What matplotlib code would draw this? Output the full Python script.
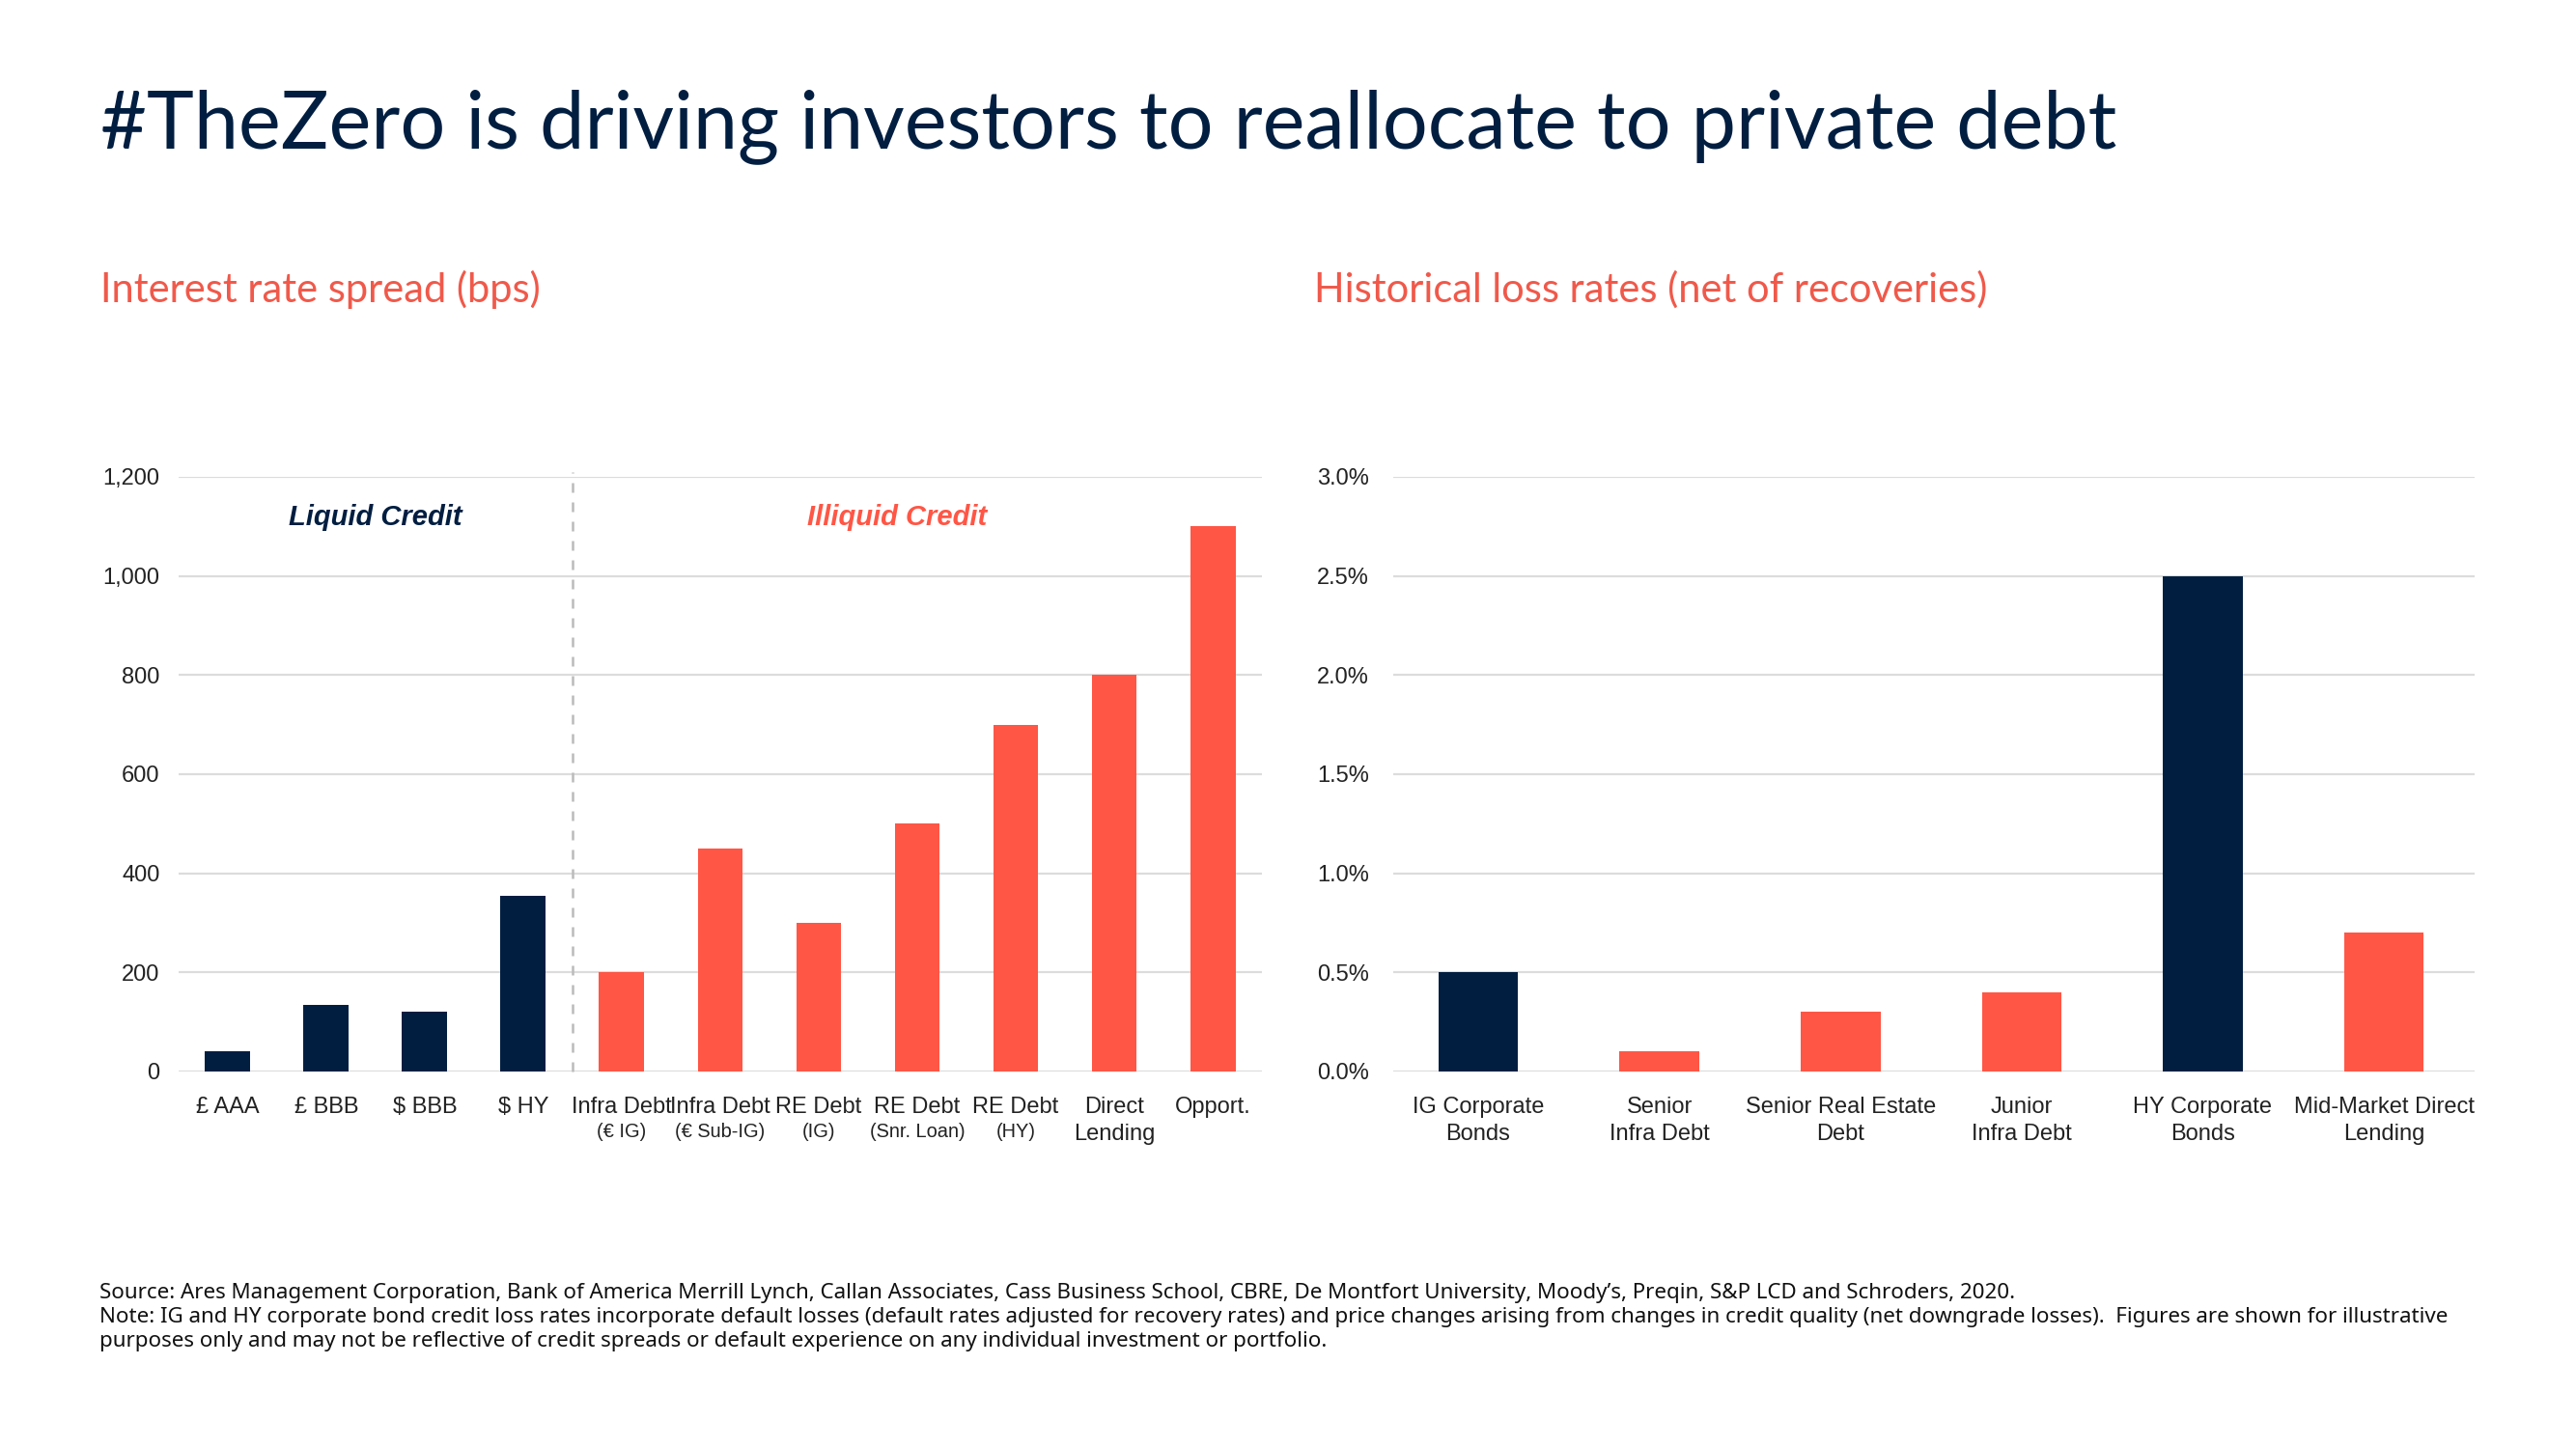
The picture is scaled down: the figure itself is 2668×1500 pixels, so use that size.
import numpy as np
import matplotlib.pyplot as plt
from matplotlib import transforms

# data
spread_labels = ["£ AAA", "£ BBB", "$ BBB", "$ HY", "Infra Debt", "Infra Debt",
                 "RE Debt", "RE Debt", "RE Debt", "Direct\nLending", "Opport."]
spread_sub = ["", "", "", "", "(€ IG)", "(€ Sub-IG)", "(IG)", "(Snr. Loan)", "(HY)", "", ""]
spread_bps = [40, 135, 120, 355, 200, 450, 300, 500, 700, 800, 1100]
n_liquid = 4

loss_labels = ["IG Corporate\nBonds", "Senior\nInfra Debt", "Senior Real Estate\nDebt",
               "Junior\nInfra Debt", "HY Corporate\nBonds", "Mid-Market Direct\nLending"]
loss_rates = [0.5, 0.1, 0.3, 0.4, 2.5, 0.7]
loss_liquid = [True, False, False, False, True, False]

NAVY = "#011E41"
RED = "#FF5645"
SUB = "#F0594A"
GRID = "#DCDCDC"
TICK = "#222222"

plt.rcParams['font.family'] = ['Liberation Sans', 'DejaVu Sans']

fig = plt.figure(figsize=(13.34, 7.5), dpi=200)

fig.text(0.039, 0.898, "#TheZero is driving investors to reallocate to private debt",
         fontsize=29.8, color=NAVY, family=['Lato', 'DejaVu Sans'], va='baseline')
fig.text(0.039, 0.8, "Interest rate spread (bps)", fontsize=15, color=SUB,
         family=['Lato', 'DejaVu Sans'], va='center')
fig.text(0.5101, 0.8, "Historical loss rates (net of recoveries)", fontsize=15, color=SUB,
         family=['Lato', 'DejaVu Sans'], va='center')


def style(ax, pad):
    for s in ax.spines.values():
        s.set_visible(False)
    ax.tick_params(length=0, labelsize=8.5, colors=TICK, pad=pad)
    ax.grid(axis='y', color=GRID, lw=0.8)
    ax.set_axisbelow(True)
    ax.set_xticks([])


# left chart
ax1 = fig.add_axes([0.0693, 0.26, 0.4206, 0.4107])
style(ax1, 7)
x = np.arange(len(spread_bps))
cols = [NAVY if i < n_liquid else RED for i in x]
ax1.bar(x, spread_bps, width=0.46, color=cols)
ax1.set_xlim(-0.5, 10.5)
ax1.set_ylim(0, 1200)
ax1.set_yticks(range(0, 1201, 200))
ax1.set_yticklabels([f"{v:,}" for v in range(0, 1201, 200)])
ax1.plot([n_liquid - 0.5] * 2, [0, 1210], ls=(0, (4, 4)), color="#BBBBBB", lw=0.9, clip_on=False)
ax1.text(1.5, 1118, "Liquid Credit", color=NAVY, fontsize=10.5, fontweight='bold',
         fontstyle='italic', ha='center', va='center')
ax1.text(6.8, 1118, "Illiquid Credit", color=RED, fontsize=10.5, fontweight='bold',
         fontstyle='italic', ha='center', va='center')
tr1 = transforms.blended_transform_factory(ax1.transData, ax1.transAxes)
for i, (lab, sub) in enumerate(zip(spread_labels, spread_sub)):
    ax1.text(i, -0.043, lab, transform=tr1, ha='center', va='top', fontsize=8.5,
             color=TICK, linespacing=1.35)
    if sub:
        ax1.text(i, -0.086, sub, transform=tr1, ha='center', va='top', fontsize=7.2, color=TICK)

# right chart
ax2 = fig.add_axes([0.5408, 0.26, 0.4198, 0.4107])
style(ax2, 9)
x2 = np.arange(len(loss_rates))
ax2.bar(x2, loss_rates, width=0.44, color=[NAVY if l else RED for l in loss_liquid])
ax2.set_xlim(-0.47, 5.5)
ax2.set_ylim(0, 3.0)
yt = np.arange(0, 3.01, 0.5)
ax2.set_yticks(yt)
ax2.set_yticklabels([f"{v:.1f}%" for v in yt])
tr2 = transforms.blended_transform_factory(ax2.transData, ax2.transAxes)
for i, lab in enumerate(loss_labels):
    ax2.text(i, -0.043, lab, transform=tr2, ha='center', va='top', fontsize=8.5,
             color=TICK, linespacing=1.35)

note = ("Source: Ares Management Corporation, Bank of America Merrill Lynch, Callan Associates, Cass Business School, CBRE, De Montfort University, Moody\u2019s, Preqin, S&P LCD and Schroders, 2020.\n"
        "Note: IG and HY corporate bond credit loss rates incorporate default losses (default rates adjusted for recovery rates) and price changes arising from changes in credit quality (net downgrade losses).  Figures are shown for illustrative\n"
        "purposes only and may not be reflective of credit spreads or default experience on any individual investment or portfolio.")
fig.text(0.0385, 0.114, note, fontsize=8.05, color="#111111", family=['Noto Sans', 'DejaVu Sans'],
         va='top', linespacing=1.25)

fig.savefig("out.png", dpi=200, facecolor='white')
